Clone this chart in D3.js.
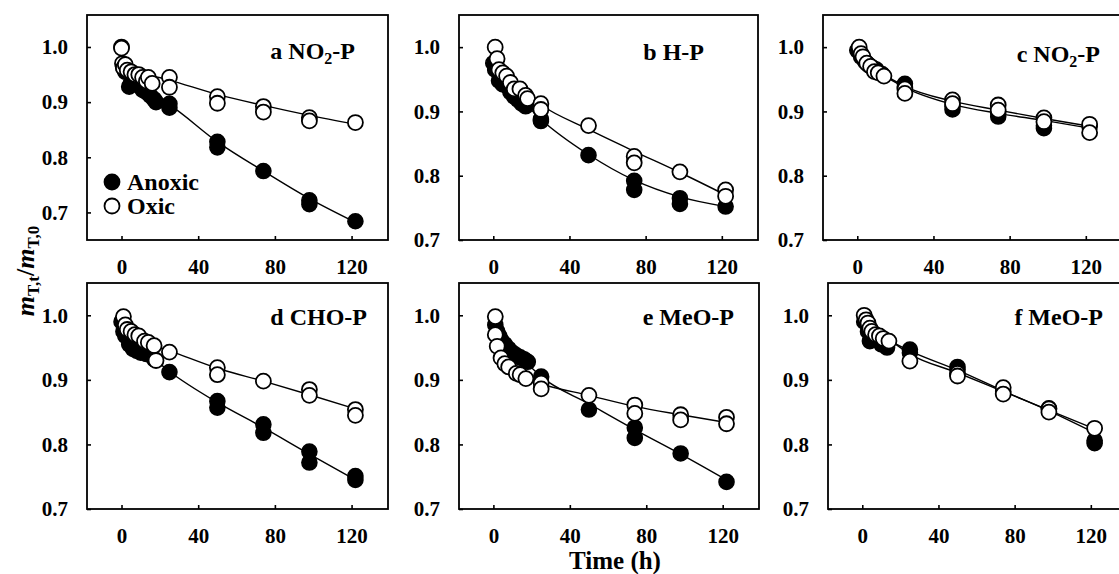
<!DOCTYPE html>
<html><head><meta charset="utf-8">
<script src="https://cdn.jsdelivr.net/npm/d3@7"></script>
<style>
body{margin:0;background:#fff}
svg{display:block}
text{font-family:"Liberation Serif","Times New Roman",serif;font-weight:bold;fill:#000}
</style>
</head><body>
<svg id="chart" width="1119" height="574"></svg>
<script>
// ---------- DATA ----------
const xTickValues = [0, 40, 80, 120];
const yTickValues = [0.7, 0.8, 0.9, 1.0];
const panelLetters = ["a", "b", "c", "d", "e", "f"];
const panelNames = ["NO2-P", "H-P", "NO2-P", "CHO-P", "MeO-P", "MeO-P"];
const seriesNames = ["Anoxic", "Oxic"];

// [time (h), m_T,t/m_T,0]
const aAnoxic = [[0,1.0],[1,0.962],[2,0.955],[4,0.928],[5,0.935],[7,0.94],[9,0.932],[11,0.922],[13,0.918],[15,0.912],[17,0.905],[18,0.9],[25,0.897],[25,0.89],[50,0.828],[50,0.818],[74,0.775],[98,0.722],[98,0.715],[122,0.684]];
const aOxic = [[0,0.998],[0.5,0.97],[1,0.962],[2,0.968],[3,0.958],[5,0.955],[7,0.95],[9,0.95],[11,0.945],[13,0.938],[14,0.945],[16,0.934],[25,0.945],[25,0.927],[50,0.91],[50,0.898],[74,0.892],[74,0.882],[98,0.872],[98,0.866],[122,0.863]];
const aFitAnoxic = [[0,0.968],[3,0.95],[8,0.932],[15,0.915],[25,0.895],[50,0.828],[74,0.775],[98,0.725],[122,0.682]];
const aFitOxic = [[0,0.975],[5,0.962],[12,0.952],[25,0.94],[50,0.914],[74,0.894],[98,0.876],[122,0.86]];

const bAnoxic = [[0,0.975],[1,0.965],[3,0.948],[5,0.942],[7,0.94],[9,0.93],[11,0.923],[13,0.918],[15,0.912],[17,0.908],[25,0.888],[25,0.885],[50,0.832],[74,0.792],[74,0.778],[98,0.765],[98,0.756],[122,0.752]];
const bOxic = [[1,1.0],[2,0.982],[3,0.965],[5,0.96],[7,0.955],[9,0.945],[11,0.935],[14,0.935],[17,0.925],[18,0.92],[25,0.912],[25,0.903],[50,0.878],[74,0.83],[74,0.82],[98,0.806],[122,0.778],[122,0.768]];
const bFitAnoxic = [[0,0.975],[5,0.952],[10,0.933],[18,0.908],[25,0.888],[50,0.833],[74,0.793],[98,0.767],[122,0.752]];
const bFitOxic = [[0,0.985],[5,0.96],[10,0.943],[18,0.925],[25,0.91],[50,0.872],[74,0.838],[98,0.805],[122,0.77]];

const cAnoxic = [[0,0.995],[2,0.985],[4,0.978],[6,0.972],[8,0.968],[10,0.965],[13,0.958],[25,0.943],[25,0.938],[50,0.908],[50,0.903],[74,0.897],[74,0.892],[98,0.878],[98,0.874],[122,0.876]];
const cOxic = [[1,1.0],[2,0.99],[3,0.985],[5,0.975],[7,0.97],[9,0.962],[11,0.96],[14,0.955],[25,0.935],[25,0.928],[50,0.918],[50,0.912],[74,0.91],[74,0.902],[98,0.89],[98,0.884],[122,0.88],[122,0.867]];
const cFitAnoxic = [[0,0.99],[5,0.975],[12,0.96],[25,0.937],[50,0.911],[74,0.897],[98,0.886],[122,0.874]];
const cFitOxic = [[0,0.995],[5,0.978],[12,0.962],[25,0.939],[50,0.916],[74,0.902],[98,0.889],[122,0.877]];

const dAnoxic = [[0,0.99],[1,0.975],[2,0.968],[4,0.955],[6,0.948],[8,0.945],[10,0.942],[13,0.94],[17,0.932],[25,0.912],[50,0.867],[50,0.857],[74,0.831],[74,0.818],[98,0.789],[98,0.772],[122,0.751],[122,0.745]];
const dOxic = [[1,0.998],[2,0.985],[3,0.978],[5,0.975],[7,0.97],[9,0.968],[12,0.96],[14,0.958],[17,0.953],[18,0.93],[25,0.943],[50,0.919],[50,0.908],[74,0.898],[98,0.885],[98,0.876],[122,0.854],[122,0.845]];
const dFitAnoxic = [[0,0.97],[4,0.958],[10,0.945],[17,0.932],[25,0.913],[50,0.865],[74,0.826],[98,0.785],[122,0.745]];
const dFitOxic = [[0,0.975],[5,0.967],[12,0.958],[25,0.945],[50,0.918],[74,0.898],[98,0.877],[122,0.855]];

const eAnoxic = [[1,0.985],[2,0.975],[3,0.968],[4,0.962],[6,0.955],[8,0.948],[10,0.942],[12,0.938],[14,0.935],[16,0.932],[18,0.928],[25,0.905],[50,0.854],[74,0.826],[74,0.81],[98,0.786],[122,0.742]];
const eOxic = [[1,0.998],[1,0.97],[2,0.952],[4,0.934],[6,0.925],[8,0.92],[12,0.91],[14,0.908],[17,0.902],[25,0.895],[25,0.886],[50,0.876],[74,0.861],[74,0.848],[98,0.846],[98,0.838],[122,0.842],[122,0.832]];
const eFitAnoxic = [[0,0.99],[5,0.96],[10,0.943],[17,0.927],[25,0.905],[50,0.863],[74,0.823],[98,0.785],[122,0.745]];
const eFitOxic = [[0,0.975],[5,0.935],[10,0.916],[17,0.903],[25,0.894],[50,0.876],[74,0.859],[98,0.846],[122,0.834]];

const fAnoxic = [[1,0.99],[3,0.975],[4,0.96],[6,0.965],[8,0.968],[10,0.955],[13,0.95],[25,0.947],[25,0.942],[50,0.92],[50,0.916],[74,0.882],[98,0.856],[122,0.806],[122,0.802]];
const fOxic = [[1,1.0],[2,0.993],[3,0.988],[4,0.98],[5,0.975],[7,0.97],[9,0.968],[11,0.964],[14,0.96],[25,0.929],[50,0.91],[50,0.906],[74,0.888],[74,0.878],[98,0.855],[98,0.85],[122,0.825]];
const fFitAnoxic = [[0,0.99],[10,0.968],[25,0.945],[50,0.915],[74,0.883],[98,0.852],[122,0.818]];
const fFitOxic = [[0,0.995],[10,0.972],[25,0.94],[50,0.911],[74,0.882],[98,0.853],[122,0.824]];

// ---------- LAYOUT ----------
const xDomain = [-18, 139];
const layout = [
  {x0: 87,  x1: 388,  y0: 15,  y1: 240, yDom: [0.65, 1.058], tx: 355, ty: 59},
  {x0: 459, x1: 758,  y0: 15,  y1: 240, yDom: [0.7, 1.05],   tx: 704, ty: 60},
  {x0: 823, x1: 1122, y0: 15,  y1: 240, yDom: [0.7, 1.05],   tx: 1100, ty: 62},
  {x0: 87,  x1: 388,  y0: 283, y1: 509, yDom: [0.7, 1.05],   tx: 367, ty: 325},
  {x0: 459, x1: 759,  y0: 283, y1: 509, yDom: [0.7, 1.05],   tx: 734, ty: 325},
  {x0: 828, x1: 1127, y0: 283, y1: 509, yDom: [0.7, 1.05],   tx: 1103, ty: 325}
];
const panelData = [
  [aAnoxic, aOxic, aFitAnoxic, aFitOxic],
  [bAnoxic, bOxic, bFitAnoxic, bFitOxic],
  [cAnoxic, cOxic, cFitAnoxic, cFitOxic],
  [dAnoxic, dOxic, dFitAnoxic, dFitOxic],
  [eAnoxic, eOxic, eFitAnoxic, eFitOxic],
  [fAnoxic, fOxic, fFitAnoxic, fFitOxic]
];

const svg = d3.select("#chart");
const R = 7.5;

function addTitle(g, x, y, letter, name) {
  const t = g.append("text").attr("x", x).attr("y", y).attr("text-anchor", "end").style("font-size", "24px");
  const m = name.match(/^(.*?)(\d)(.*)$/);
  if (m) {
    t.append("tspan").text(letter + " " + m[1]);
    t.append("tspan").attr("dy", 5).style("font-size", "16px").text(m[2]);
    t.append("tspan").attr("dy", -5).text(m[3]);
  } else {
    t.text(letter + " " + name);
  }
}

layout.forEach((L, i) => {
  const [anox, ox, fitA, fitO] = panelData[i];
  const g = svg.append("g");
  const x = d3.scaleLinear().domain(xDomain).range([L.x0, L.x1]);
  const y = d3.scaleLinear().domain(L.yDom).range([L.y1, L.y0]);

  // x axis
  const gx = g.append("g").attr("transform", `translate(0,${L.y1})`)
    .call(d3.axisBottom(x).tickValues(xTickValues).tickSizeInner(-4).tickSizeOuter(0).tickPadding(19).tickFormat(d3.format("d")));
  gx.select(".domain").remove();
  gx.selectAll("line").attr("stroke", "#000").attr("stroke-width", 1.6);
  gx.selectAll("text").style("font-size", "21px").attr("fill", "#000");

  // y axis
  const gy = g.append("g").attr("transform", `translate(${L.x0},0)`)
    .call(d3.axisLeft(y).tickValues(yTickValues).tickSizeInner(-4).tickSizeOuter(0).tickPadding(19).tickFormat(d3.format(".1f")));
  gy.select(".domain").remove();
  gy.selectAll("line").attr("stroke", "#000").attr("stroke-width", 1.6);
  gy.selectAll("text").style("font-size", "21px").attr("fill", "#000");

  // frame
  g.append("rect").attr("x", L.x0).attr("y", L.y0).attr("width", L.x1 - L.x0).attr("height", L.y1 - L.y0)
    .attr("fill", "none").attr("stroke", "#000").attr("stroke-width", 1.8);

  const clipId = "clip" + i;
  g.append("clipPath").attr("id", clipId).append("rect")
    .attr("x", L.x0).attr("y", L.y0).attr("width", L.x1 - L.x0).attr("height", L.y1 - L.y0);
  const plot = g.append("g").attr("clip-path", `url(#${clipId})`);

  const line = d3.line().x(d => x(d[0])).y(d => y(d[1])).curve(d3.curveMonotoneX);
  [fitA, fitO].forEach(f => {
    plot.append("path").datum(f).attr("d", line).attr("fill", "none").attr("stroke", "#000").attr("stroke-width", 1.4);
  });

  plot.selectAll(".anox").data(anox).join("circle").attr("class", "anox")
    .attr("cx", d => x(d[0])).attr("cy", d => y(d[1])).attr("r", R)
    .attr("fill", "#000").attr("stroke", "#000").attr("stroke-width", 1.6);
  plot.selectAll(".ox").data(ox).join("circle").attr("class", "ox")
    .attr("cx", d => x(d[0])).attr("cy", d => y(d[1])).attr("r", R)
    .attr("fill", "#fff").attr("stroke", "#000").attr("stroke-width", 1.8);

  addTitle(g, L.tx, L.ty, panelLetters[i], panelNames[i]);

  if (i === 0) {
    const lg = g.append("g");
    const ly = [L.y0 + 167, L.y0 + 191];
    [0, 1].forEach(k => {
      lg.append("circle").attr("cx", 112).attr("cy", ly[k]).attr("r", 7.5)
        .attr("fill", k === 0 ? "#000" : "#fff").attr("stroke", "#000").attr("stroke-width", 1.8);
      lg.append("text").attr("x", 127).attr("y", ly[k]).attr("dy", "0.33em").style("font-size", "24px").text(seriesNames[k]);
    });
  }
});

// axis titles
const yl = svg.append("text").attr("transform", "translate(34,271) rotate(-90)").attr("text-anchor", "middle").style("font-size", "26px");
yl.append("tspan").style("font-style", "italic").text("m");
yl.append("tspan").attr("dy", 5).style("font-size", "17px").text("T,t");
yl.append("tspan").attr("dy", -5).text("/");
yl.append("tspan").style("font-style", "italic").text("m");
yl.append("tspan").attr("dy", 5).style("font-size", "17px").text("T,0");

svg.append("text").attr("x", 615).attr("y", 569).attr("text-anchor", "middle").style("font-size", "25px").text("Time (h)");
</script>
</body></html>
